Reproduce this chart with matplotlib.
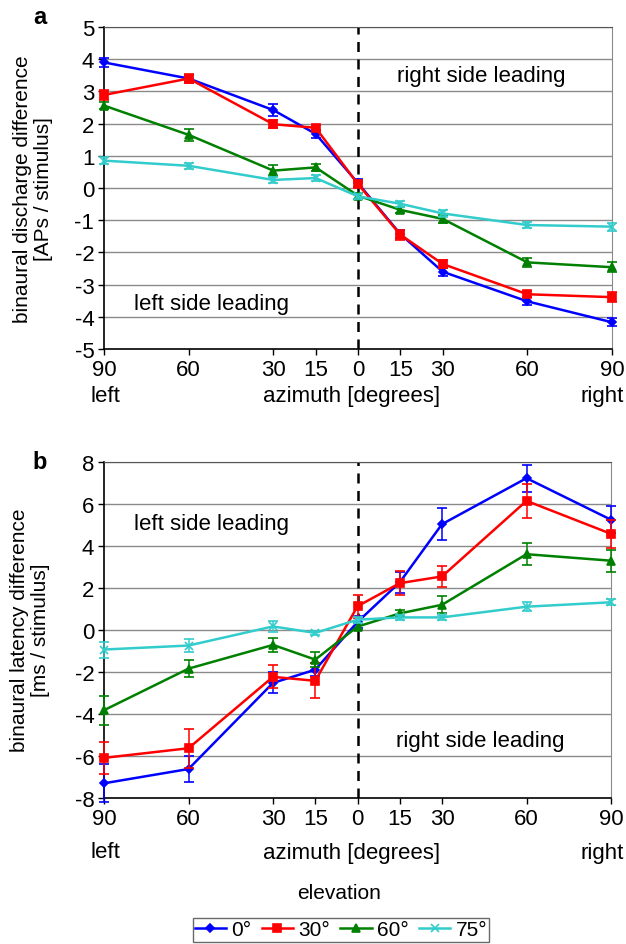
import numpy as np
import matplotlib
matplotlib.use("Agg")
import matplotlib.pyplot as plt

plt.rcParams['font.family'] = ['Liberation Sans', 'DejaVu Sans']

# azimuth positions, left side negative
azimuth = [-90, -60, -30, -15, 0, 15, 30, 60, 90]
tick_labels = ['90', '60', '30', '15', '0', '15', '30', '60', '90']
elevations = ['0°', '30°', '60°', '75°']

# binaural discharge difference [APs / stimulus]
disc_0 = [3.9, 3.4, 2.42, 1.68, 0.15, -1.43, -2.6, -3.52, -4.17]
disc_30 = [2.89, 3.4, 1.98, 1.87, 0.12, -1.45, -2.36, -3.3, -3.39]
disc_60 = [2.56, 1.65, 0.54, 0.64, -0.24, -0.68, -0.96, -2.31, -2.46]
disc_75 = [0.85, 0.69, 0.25, 0.31, -0.26, -0.49, -0.79, -1.15, -1.2]
disc_err_0 = [0.15, 0.1, 0.18, 0.12, 0.12, 0.12, 0.12, 0.12, 0.12]
disc_err_30 = [0.15, 0.15, 0.12, 0.1, 0.1, 0.15, 0.12, 0.1, 0.15]
disc_err_60 = [0.12, 0.18, 0.17, 0.12, 0.1, 0.1, 0.12, 0.15, 0.15]
disc_err_75 = [0.12, 0.1, 0.1, 0.08, 0.08, 0.1, 0.1, 0.1, 0.12]

# binaural latency difference [ms / stimulus]
lat_0 = [-7.3, -6.62, -2.52, -1.89, 0.38, 2.27, 5.04, 7.23, 5.25]
lat_30 = [-6.09, -5.63, -2.23, -2.42, 1.13, 2.23, 2.55, 6.15, 4.58]
lat_60 = [-3.82, -1.84, -0.71, -1.41, 0.16, 0.79, 1.2, 3.61, 3.3]
lat_75 = [-0.93, -0.74, 0.17, -0.14, 0.49, 0.6, 0.6, 1.11, 1.32]
lat_err_0 = [0.9, 0.63, 0.5, 0.3, 0.3, 0.5, 0.75, 0.65, 0.65]
lat_err_30 = [0.76, 0.93, 0.55, 0.84, 0.55, 0.57, 0.5, 0.8, 0.67]
lat_err_60 = [0.7, 0.4, 0.33, 0.35, 0.15, 0.15, 0.4, 0.52, 0.52]
lat_err_75 = [0.38, 0.32, 0.25, 0.1, 0.15, 0.1, 0.12, 0.2, 0.15]

colors = ['#0000ff', '#ff0000', '#008000', '#33cccc']
markers = ['D', 's', '^', 'x']
msizes = [4, 5.5, 6, 6]

W, H = 626, 945
fig = plt.figure(figsize=(W / 100, H / 100), dpi=100)


def px_axes(left, top, right, bottom):
    return fig.add_axes([left / W, 1 - bottom / H, (right - left) / W, (bottom - top) / H])


def draw_panel(ax, series, errors, ylim, ystep):
    lines = []
    for i in range(4):
        cont = ax.errorbar(azimuth, series[i], yerr=errors[i], color=colors[i],
                           marker=markers[i], ms=msizes[i], lw=1.8, mew=1.2,
                           elinewidth=1.1, capsize=3.6, capthick=1.1,
                           label=elevations[i], clip_on=False, zorder=3 + i)
        lines.append(cont.lines[0])
    ax.set_xlim(-90, 90)
    ax.set_ylim(*ylim)
    ax.set_yticks(np.arange(ylim[0], ylim[1] + 0.1, ystep))
    ax.set_xticks(azimuth)
    ax.set_xticklabels(tick_labels)
    for yv in np.arange(ylim[0] + ystep, ylim[1] + 0.1, ystep):
        ax.axhline(yv, color='#8a8a8a', lw=1.0, zorder=1)
    ax.axvline(0, color='black', lw=1.8, ls=(0, (4, 3)), zorder=2)
    ax.tick_params(direction='out', length=4, width=1, labelsize=16, pad=3)
    ax.spines['top'].set_color('#555555')
    ax.spines['right'].set_color('#8a8a8a')
    ax.spines['left'].set_linewidth(1.2)
    ax.spines['bottom'].set_linewidth(1.2)
    ax.yaxis.set_major_formatter(matplotlib.ticker.FuncFormatter(lambda v, p: '%d' % v))
    return lines


ax_a = px_axes(104, 28, 612, 350)
legend_lines = draw_panel(ax_a, [disc_0, disc_30, disc_60, disc_75],
                          [disc_err_0, disc_err_30, disc_err_60, disc_err_75], (-5, 5), 1)
ax_a.text(-52, -3.6, 'left side leading', fontsize=16, ha='center', va='center')
ax_a.text(43.6, 3.5, 'right side leading', fontsize=16, ha='center', va='center')

ax_b = px_axes(104, 463, 611, 799)
draw_panel(ax_b, [lat_0, lat_30, lat_60, lat_75],
           [lat_err_0, lat_err_30, lat_err_60, lat_err_75], (-8, 8), 2)
ax_b.text(-52, 5.05, 'left side leading', fontsize=16, ha='center', va='center')
ax_b.text(43.6, -5.25, 'right side leading', fontsize=16, ha='center', va='center')

# y labels, panel letters and the second row under the ticks
fig.text(33 / W, 1 - 189 / H, 'binaural discharge difference\n[APs / stimulus]',
         rotation=90, ha='center', va='center', fontsize=15, linespacing=1.1)
fig.text(30 / W, 1 - 630 / H, 'binaural latency difference\n[ms / stimulus]',
         rotation=90, ha='center', va='center', fontsize=15, linespacing=1.1)
fig.text(40 / W, 1 - 18 / H, 'a', fontsize=17, fontweight='bold', ha='center', va='center')
fig.text(40 / W, 1 - 463 / H, 'b', fontsize=17, fontweight='bold', ha='center', va='center')

for yrow in (397, 853):
    fig.text(105 / W, 1 - yrow / H, 'left', fontsize=16, ha='center', va='center')
    fig.text(352 / W, 1 - yrow / H, 'azimuth [degrees]', fontsize=16, ha='center', va='center')
    fig.text(602 / W, 1 - yrow / H, 'right', fontsize=16, ha='center', va='center')

fig.text(339 / W, 1 - 894 / H, 'elevation', fontsize=15, ha='center', va='center')

leg = fig.legend(legend_lines, elevations, loc='center', bbox_to_anchor=(341 / W, 1 - 931 / H),
                 ncol=4, fontsize=15, frameon=True, fancybox=False, borderpad=0.1,
                 handlelength=1.5, handletextpad=0.25, columnspacing=0.5,
                 borderaxespad=0)
leg.get_frame().set_edgecolor('#444444')
leg.get_frame().set_linewidth(1.0)

fig.savefig('out.png', dpi=100)
